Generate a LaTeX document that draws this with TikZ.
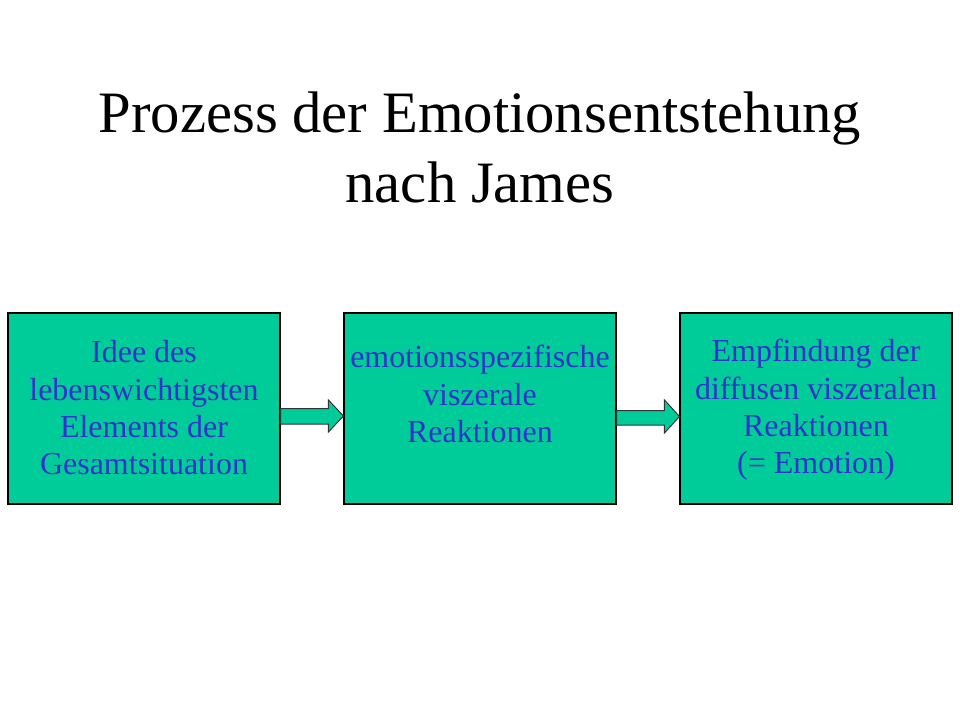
\documentclass[tikz,border=0pt]{standalone}
\usepackage{fontspec}
\setmainfont{Liberation Serif}
\usetikzlibrary{calc}
\definecolor{boxgreen}{HTML}{00CC99}
\definecolor{textblue}{HTML}{3333CC}
\tikzset{
  stagebox/.style={draw=black, line width=0.8pt, fill=boxgreen, minimum width=272*0.75pt, minimum height=191*0.75pt, inner sep=0pt},
  stagetext/.style={text=textblue, align=center, font=\fontsize{24}{28}\selectfont, inner sep=0pt},
  titletext/.style={text=black, align=center, font=\fontsize{44}{52.5}\selectfont, inner sep=0pt},
  blockarrow/.style={draw=black!80, line width=0.75pt, fill=boxgreen, line join=miter}
}
\begin{document}
\begin{tikzpicture}[x=0.75pt,y=-0.75pt]
\useasboundingbox[fill=white] (0,0) rectangle (960,720);
\node[titletext] (title) at (480,147) {Prozess der Emotionsentstehung\\nach James};
\node[stagebox] (b1) at (144,408.5) {};
\node[stagebox] (b2) at (480,408.5) {};
\node[stagebox] (b3) at (816,408.5) {};
\node[stagetext] (t1) at (144,408) {Idee des\\lebenswichtigsten\\Elements der\\Gesamtsituation};
\node[stagetext] (t2) at (480,394) {emotionsspezifische\\viszerale\\Reaktionen};
\node[stagetext] (t3) at (816,410) {Empfindung der\\diffusen viszeralen\\Reaktionen\\(= Emotion)};
\draw[blockarrow] ($(b1.east)+(0,0)$)
  -- ($(b2.west)+(-15,0)$) -- ($(b2.west)+(-15,-8.5)$) -- ($(b2.west)+(0,7.5)$)
  -- ($(b2.west)+(-15,23.5)$) -- ($(b2.west)+(-15,15.5)$) -- ($(b1.east)+(0,15.5)$) -- cycle;
\draw[blockarrow] ($(b2.east)+(0,2)$)
  -- ($(b3.west)+(-15,2)$) -- ($(b3.west)+(-15,-8.5)$) -- ($(b3.west)+(0,8)$)
  -- ($(b3.west)+(-15,24.5)$) -- ($(b3.west)+(-15,16.5)$) -- ($(b2.east)+(0,16.5)$) -- cycle;
\end{tikzpicture}
\end{document}
